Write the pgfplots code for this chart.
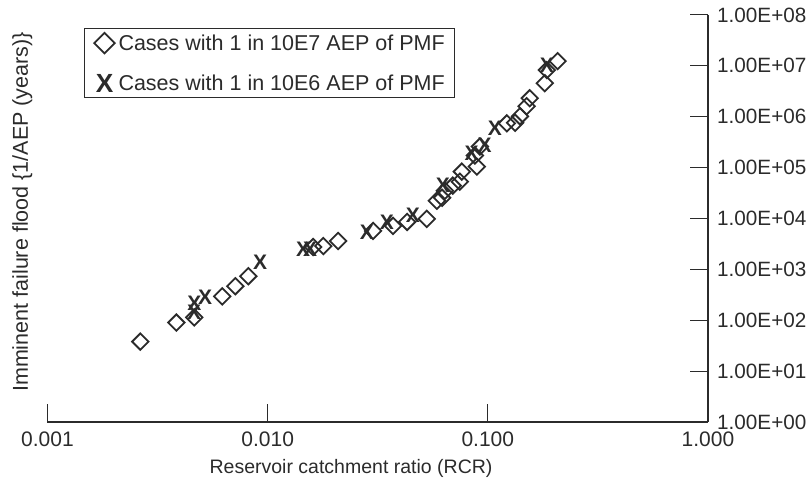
\documentclass[border=0pt]{standalone}
\usepackage{fontspec}
\setmainfont{Liberation Sans}
\usepackage{pgfplots}
\pgfplotsset{compat=1.18}
\definecolor{ink}{HTML}{2B2B2B}
\pgfplotstableread{
x y
0.00264 38
0.00385 90
0.00464 114
0.00622 295
0.00713 466
0.00817 734
0.0161 2750
0.0179 2870
0.0209 3610
0.0301 5690
0.0371 7140
0.0430 8570
0.0528 9820
0.0587 22300
0.0620 25500
0.0638 35100
0.0693 44100
0.0746 52900
0.0762 83400
0.0891 105000
0.0873 173000
0.0921 260000
0.122 741000
0.133 760000
0.140 1020000
0.150 1610000
0.155 2310000
0.1815 4570000
0.1854 8260000
0.2075 12400000
}\diamonds
\pgfplotstableread{
x y
0.00464 145
0.00465 215
0.0052 285
0.00925 1390
0.0145 2510
0.0156 2510
0.0282 5440
0.0348 8570
0.0457 11800
0.0625 44100
0.0845 189000
0.0968 272000
0.1077 590000
0.1854 10400000
}\xcases
\begin{document}
\begin{tikzpicture}[x=1pt,y=1pt]
\begin{axis}[
  at={(0,0)}, anchor=south west,
  scale only axis, width=660.5pt, height=407pt,
  xmode=log, ymode=log,
  xmin=0.001, xmax=1, ymin=1, ymax=1e8,
  axis x line*=bottom, axis y line*=right,
  axis line style={ink, line width=1.1pt, -},
  tick align=inside, major tick length=18pt,
  tick style={ink, line width=1pt},
  minor tick style={draw=none},
  xtick={0.001,0.01,0.1,1},
  xticklabels={0.001,0.010,0.100,1.000},
  ytick={1,10,100,1000,10000,100000,1000000,10000000,100000000},
  yticklabels={1.00E+00,1.00E+01,1.00E+02,1.00E+03,1.00E+04,1.00E+05,1.00E+06,1.00E+07,1.00E+08},
  /pgf/number format/assume math mode=true,
  xticklabel style={font=\fontsize{21}{24}\selectfont, text=ink, anchor=base, yshift=-25pt},
  yticklabel style={font=\fontsize{20.7}{23}\selectfont, text=ink, anchor=west, inner xsep=0pt, xshift=9pt},
  xlabel={Reservoir catchment ratio (RCR)},
  ylabel={Imminent failure flood \{1/AEP (years)\}},
  xlabel style={font=\fontsize{19.5}{24}\selectfont, text=ink, at={(axis description cs:0.4596,0)}, anchor=base, yshift=-52pt},
  ylabel style={font=\fontsize{21.5}{24}\selectfont, text=ink, at={(axis description cs:0,0.516)}, anchor=base, yshift=19.5pt},
  legend style={at={(rel axis cs:0.0553,0.968)}, anchor=north west, draw=ink, line width=1pt,
    font=\fontsize{21.5}{25}\selectfont, text=ink, row sep=19pt, inner xsep=8pt, inner ysep=4pt},
  legend cell align=left,
  legend image code/.code={\path[draw=none] (0pt,0pt) -- (24pt,0pt); \draw[every mark/.append style={scale=1.25}] plot coordinates {(12pt,0pt)};},
]
\addplot[only marks, mark=square, mark size=5.8pt,
  mark options={rotate=45, draw=ink, line width=1.8pt, fill=none}] table[x=x,y=y] {\diamonds};
\addlegendentry{Cases with 1 in 10E7 AEP of PMF}
\addplot[only marks, mark=text, text mark={\textcolor{ink}{\fontsize{21}{21}\selectfont\bfseries X}}] table[x=x,y=y] {\xcases};
\addlegendentry{Cases with 1 in 10E6 AEP of PMF}
\end{axis}
\pgfresetboundingbox
\useasboundingbox (-47.5,-64) rectangle (761.5,422);
\end{tikzpicture}
\end{document}
